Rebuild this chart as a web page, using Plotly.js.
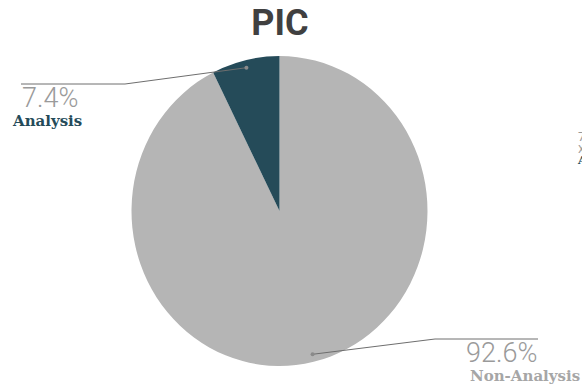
<!DOCTYPE html>
<html>
<head>
<meta charset="utf-8">
<script src="https://cdn.plot.ly/plotly-3.0.1.min.js"></script>
<style>
html,body{margin:0;padding:0;background:#fff;}
#wrap{position:relative;width:582px;height:386px;overflow:hidden;}
#pie,#overlay{position:absolute;left:0;top:0;width:582px;height:386px;}
</style>
</head>
<body>
<div id="wrap"><div id="pie"></div><div id="overlay"></div></div>
<script>
const labels = ["Analysis", "Non-Analysis"];
const values = [7.4, 92.6];
const sliceColors = ["#254b59", "#b5b5b5"];
const nameColors = ["#254b59", "#a6a6a6"];
const chartTitle = "PIC";

const W = 582, H = 386;
const cx = 279.5, cy = 211, RX = 148, RY = 155;
const px = x => x / W;
const py = y => 1 - y / H;

// the reference pie is slightly taller than wide: stretch the pie layer vertically
const pieDiv = document.getElementById("pie");
pieDiv.style.transformOrigin = `0px ${cy}px`;
pieDiv.style.transform = `scaleY(${RY / RX})`;

const total = values.reduce((a, b) => a + b, 0);
const shapes = [], annotations = [];
let cum = 0;
values.forEach((v, i) => {
  const mid = (cum + v / 2) / total * 2 * Math.PI;
  cum += v;
  const dx = -Math.sin(mid), dy = -Math.cos(mid);
  const dotX = cx + dx * RX * 0.97, dotY = cy + dy * RY * 0.95;
  const isLeft = (i === 0);
  const elbowX = isLeft ? 125 : 435;
  const elbowY = isLeft ? 84 : 339;
  const endX = isLeft ? 21 : 538;
  shapes.push({type: "path", xref: "paper", yref: "paper",
    path: `M ${px(dotX)} ${py(dotY)} L ${px(elbowX)} ${py(elbowY)} L ${px(endX)} ${py(elbowY)}`,
    line: {color: "#6e6e6e", width: 1}});
  shapes.push({type: "circle", xref: "paper", yref: "paper",
    x0: px(dotX - 2), x1: px(dotX + 2), y0: py(dotY - 2), y1: py(dotY + 2),
    fillcolor: "#8a8a8a", line: {width: 0}});
  const pct = (v / total * 100).toFixed(1) + "%";
  annotations.push({xref: "paper", yref: "paper", x: px(endX), y: py(elbowY - 3),
    xanchor: isLeft ? "left" : "right", yanchor: "top", showarrow: false, text: pct, borderpad: 0,
    font: {family: "Roboto", weight: 300, size: 27, color: "#9a9a9a"}});
  annotations.push({xref: "paper", yref: "paper", x: px(isLeft ? 11 : 581), y: py(elbowY + 47),
    xanchor: isLeft ? "left" : "right", yanchor: "bottom", showarrow: false, borderpad: 0,
    text: "<b>" + labels[i] + "</b>",
    font: {family: "DejaVu Serif", size: 15, color: nameColors[i]}});
});

// clipped partial label at the right edge of the reference
annotations.push({xref: "paper", yref: "paper", x: px(576), y: py(128), xanchor: "left", yanchor: "top",
  showarrow: false, align: "left", borderpad: 0,
  text: '<span style="color:#9a9a9a;font-size:13px">' + (values[0]).toFixed(1) + '%</span><br><span style="color:#9a9a9a;font-size:11px">X</span><br><span style="color:' + nameColors[0] + ';font-size:11px;font-family:DejaVu Serif"><b>' + labels[0] + '</b></span>',
  font: {family: "Roboto", size: 9, color: "#9a9a9a"}});

// the library draws slices clockwise from 12 o'clock; reverse so "Analysis" sits just left of the top
const data = [{
  type: "pie", labels: labels.slice().reverse(), values: values.slice().reverse(), sort: false,
  direction: "clockwise", rotation: 0,
  marker: {colors: sliceColors.slice().reverse(), line: {width: 0}},
  textinfo: "none", hoverinfo: "none", showlegend: false,
  domain: {x: [(cx - RX) / W, (cx + RX) / W], y: [(H - cy - RX) / H, (H - cy + RX) / H]}
}];

Plotly.newPlot("pie", data, {
  width: W, height: H, margin: {l: 0, r: 0, t: 0, b: 0},
  paper_bgcolor: "#ffffff", showlegend: false
}, {displayModeBar: false, staticPlot: true});

Plotly.newPlot("overlay", [], {
  width: W, height: H,
  margin: {l: 0, r: 0, t: 0, b: 0},
  paper_bgcolor: "rgba(0,0,0,0)", plot_bgcolor: "rgba(0,0,0,0)",
  xaxis: {visible: false}, yaxis: {visible: false},
  title: {text: "<b>" + chartTitle + "</b>", x: px(280), xanchor: "center", y: py(22), yanchor: "middle",
    font: {family: "Roboto", size: 36, color: "#404040"}},
  shapes: shapes, annotations: annotations, showlegend: false
}, {displayModeBar: false, staticPlot: true});
</script>
</body>
</html>
